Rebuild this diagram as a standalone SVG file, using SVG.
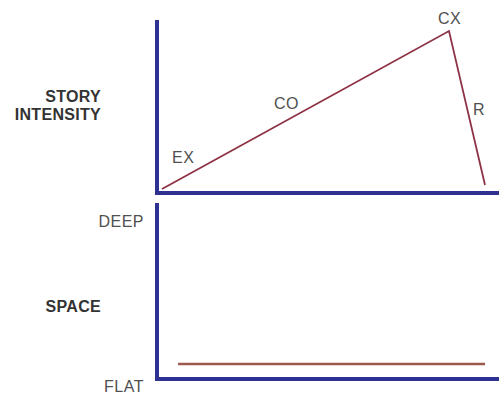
<svg xmlns="http://www.w3.org/2000/svg" width="499" height="396" viewBox="0 0 499 396">
<style>
.axis{stroke:#2e3192;stroke-width:4;fill:none}
.plot{stroke:#8e3345;stroke-width:1.8;fill:none}
.flat{stroke:#9a5a4c;stroke-width:2.5;fill:none}
.lbl{font-family:"Liberation Sans",Arial,sans-serif;font-size:16px;letter-spacing:0.5px;fill:#505050}
.ttl{font-family:"Liberation Sans",Arial,sans-serif;font-size:16px;font-weight:bold;letter-spacing:0.3px;fill:#333;text-anchor:end}
</style>
<rect width="499" height="396" fill="#fff"/>
<g id="top-chart">
<path class="axis" d="M157,20 V193 H499"/>
<text class="ttl" x="101" y="102">STORY</text>
<text class="ttl" x="101" y="120">INTENSITY</text>
</g>
<g id="bottom-chart">
<path class="axis" d="M157,203 V379 H499"/>
<text class="ttl" x="101" y="312">SPACE</text>
<text class="lbl" x="144" y="227" text-anchor="end">DEEP</text>
<text class="lbl" x="144" y="392" text-anchor="end">FLAT</text>
</g>
<g id="connectors">
<polyline class="plot" points="162,189 449,31 485,185"/>
<line class="flat" x1="178" y1="364" x2="485" y2="364"/>
</g>
<g id="labels">
<text class="lbl" x="172" y="163">EX</text>
<text class="lbl" x="274" y="109">CO</text>
<text class="lbl" x="438" y="24">CX</text>
<text class="lbl" x="473" y="115">R</text>
</g>
</svg>
